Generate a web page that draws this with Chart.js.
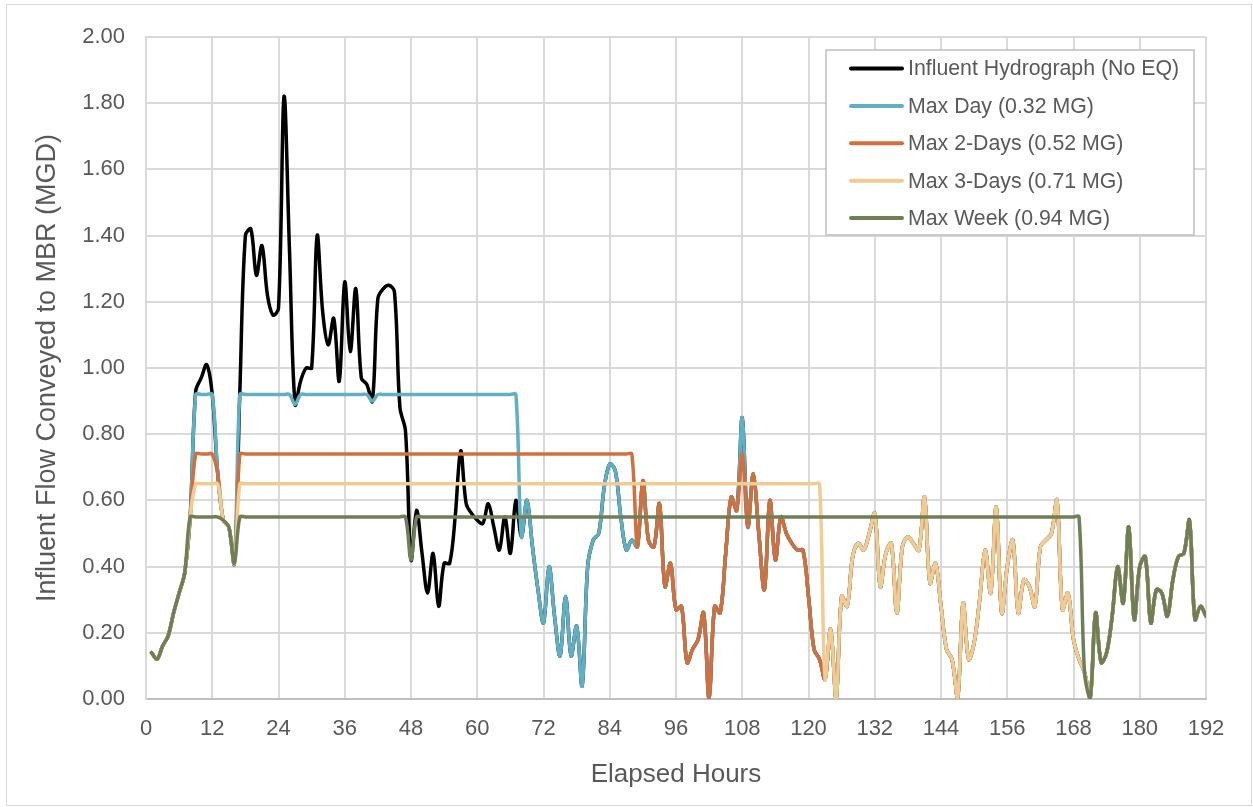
<!DOCTYPE html>
<html>
<head>
<meta charset="utf-8">
<script src="https://cdn.jsdelivr.net/npm/chart.js@4.4.1/dist/chart.umd.min.js"></script>
<style>
  html, body { margin: 0; padding: 0; background: #fff; }
  #wrap { position: relative; width: 1253px; height: 807px; }
  #frame { position: absolute; left: 6px; top: 4px; width: 1244px; height: 800px; border: 1px solid #d9d9d9; pointer-events: none; }
</style>
</head>
<body>
<div id="wrap">
  <canvas id="chart-flow" width="1253" height="807"></canvas>
  <div id="frame"></div>
</div>
<script>
// elapsed hours 1..192
const hours = Array.from({ length: 192 }, (_, i) => i + 1);

const influent = [
  0.14, 0.12, 0.16, 0.19, 0.26, 0.32, 0.38, 0.55, 0.93, 0.97, 1.01, 0.92,
  0.68, 0.54, 0.52, 0.41, 0.93, 1.40, 1.42, 1.28, 1.37, 1.22, 1.16, 1.18,
  1.82, 1.35, 0.89, 0.96, 1.00, 1.00, 1.40, 1.17, 1.07, 1.15, 0.96, 1.26,
  1.05, 1.24, 0.97, 0.95, 0.90, 1.21, 1.24, 1.25, 1.23, 0.88, 0.81, 0.42,
  0.57, 0.44, 0.32, 0.44, 0.28, 0.41, 0.41, 0.55, 0.75, 0.59, 0.56, 0.54,
  0.53, 0.59, 0.52, 0.45, 0.55, 0.44, 0.60, 0.49, 0.60, 0.46, 0.33, 0.23,
  0.40, 0.25, 0.13, 0.31, 0.13, 0.22, 0.04, 0.40, 0.48, 0.50, 0.64, 0.71,
  0.69, 0.55, 0.45, 0.48, 0.46, 0.66, 0.48, 0.46, 0.59, 0.34, 0.41, 0.27,
  0.28, 0.11, 0.15, 0.18, 0.26, 0.00, 0.28, 0.26, 0.44, 0.61, 0.57, 0.85,
  0.52, 0.68, 0.50, 0.33, 0.60, 0.42, 0.55, 0.50, 0.47, 0.45, 0.45, 0.31,
  0.15, 0.12, 0.06, 0.21, 0.00, 0.31, 0.28, 0.43, 0.47, 0.45, 0.50, 0.56,
  0.34, 0.44, 0.47, 0.26, 0.46, 0.49, 0.47, 0.45, 0.61, 0.35, 0.41, 0.28,
  0.15, 0.12, 0.00, 0.29, 0.12, 0.17, 0.30, 0.45, 0.32, 0.58, 0.26, 0.40,
  0.48, 0.26, 0.36, 0.34, 0.28, 0.46, 0.48, 0.50, 0.60, 0.27, 0.32, 0.18,
  0.12, 0.08, 0.00, 0.26, 0.11, 0.14, 0.25, 0.40, 0.29, 0.52, 0.24, 0.40,
  0.43, 0.23, 0.33, 0.32, 0.25, 0.36, 0.43, 0.44, 0.54, 0.24, 0.28, 0.25
];

const maxDay = [
  0.14, 0.12, 0.16, 0.19, 0.26, 0.32, 0.38, 0.55, 0.92, 0.92, 0.92, 0.92,
  0.68, 0.54, 0.52, 0.41, 0.92, 0.92, 0.92, 0.92, 0.92, 0.92, 0.92, 0.92,
  0.92, 0.92, 0.89, 0.92, 0.92, 0.92, 0.92, 0.92, 0.92, 0.92, 0.92, 0.92,
  0.92, 0.92, 0.92, 0.92, 0.90, 0.92, 0.92, 0.92, 0.92, 0.92, 0.92, 0.92,
  0.92, 0.92, 0.92, 0.92, 0.92, 0.92, 0.92, 0.92, 0.92, 0.92, 0.92, 0.92,
  0.92, 0.92, 0.92, 0.92, 0.92, 0.92, 0.92, 0.49, 0.60, 0.46, 0.33, 0.23,
  0.40, 0.25, 0.13, 0.31, 0.13, 0.22, 0.04, 0.40, 0.48, 0.50, 0.64, 0.71,
  0.69, 0.55, 0.45, 0.48, 0.46, 0.66, 0.48, 0.46, 0.59, 0.34, 0.41, 0.27,
  0.28, 0.11, 0.15, 0.18, 0.26, 0.00, 0.28, 0.26, 0.44, 0.61, 0.57, 0.85,
  0.52, 0.68, 0.50, 0.33, 0.60, 0.42, 0.55, 0.50, 0.47, 0.45, 0.45, 0.31,
  0.15, 0.12, 0.06, 0.21, 0.00, 0.31, 0.28, 0.43, 0.47, 0.45, 0.50, 0.56,
  0.34, 0.44, 0.47, 0.26, 0.46, 0.49, 0.47, 0.45, 0.61, 0.35, 0.41, 0.28,
  0.15, 0.12, 0.00, 0.29, 0.12, 0.17, 0.30, 0.45, 0.32, 0.58, 0.26, 0.40,
  0.48, 0.26, 0.36, 0.34, 0.28, 0.46, 0.48, 0.50, 0.60, 0.27, 0.32, 0.18,
  0.12, 0.08, 0.00, 0.26, 0.11, 0.14, 0.25, 0.40, 0.29, 0.52, 0.24, 0.40,
  0.43, 0.23, 0.33, 0.32, 0.25, 0.36, 0.43, 0.44, 0.54, 0.24, 0.28, 0.25
];

const max2Days = [
  0.14, 0.12, 0.16, 0.19, 0.26, 0.32, 0.38, 0.55, 0.74, 0.74, 0.74, 0.74,
  0.68, 0.54, 0.52, 0.41, 0.74, 0.74, 0.74, 0.74, 0.74, 0.74, 0.74, 0.74,
  0.74, 0.74, 0.74, 0.74, 0.74, 0.74, 0.74, 0.74, 0.74, 0.74, 0.74, 0.74,
  0.74, 0.74, 0.74, 0.74, 0.74, 0.74, 0.74, 0.74, 0.74, 0.74, 0.74, 0.74,
  0.74, 0.74, 0.74, 0.74, 0.74, 0.74, 0.74, 0.74, 0.74, 0.74, 0.74, 0.74,
  0.74, 0.74, 0.74, 0.74, 0.74, 0.74, 0.74, 0.74, 0.74, 0.74, 0.74, 0.74,
  0.74, 0.74, 0.74, 0.74, 0.74, 0.74, 0.74, 0.74, 0.74, 0.74, 0.74, 0.74,
  0.74, 0.74, 0.74, 0.74, 0.46, 0.66, 0.48, 0.46, 0.59, 0.34, 0.41, 0.27,
  0.28, 0.11, 0.15, 0.18, 0.26, 0.00, 0.28, 0.26, 0.44, 0.61, 0.57, 0.74,
  0.52, 0.68, 0.50, 0.33, 0.60, 0.42, 0.55, 0.50, 0.47, 0.45, 0.45, 0.31,
  0.15, 0.12, 0.06, 0.21, 0.00, 0.31, 0.28, 0.43, 0.47, 0.45, 0.50, 0.56,
  0.34, 0.44, 0.47, 0.26, 0.46, 0.49, 0.47, 0.45, 0.61, 0.35, 0.41, 0.28,
  0.15, 0.12, 0.00, 0.29, 0.12, 0.17, 0.30, 0.45, 0.32, 0.58, 0.26, 0.40,
  0.48, 0.26, 0.36, 0.34, 0.28, 0.46, 0.48, 0.50, 0.60, 0.27, 0.32, 0.18,
  0.12, 0.08, 0.00, 0.26, 0.11, 0.14, 0.25, 0.40, 0.29, 0.52, 0.24, 0.40,
  0.43, 0.23, 0.33, 0.32, 0.25, 0.36, 0.43, 0.44, 0.54, 0.24, 0.28, 0.25
];

const max3Days = [
  0.14, 0.12, 0.16, 0.19, 0.26, 0.32, 0.38, 0.55, 0.65, 0.65, 0.65, 0.65,
  0.65, 0.54, 0.52, 0.41, 0.65, 0.65, 0.65, 0.65, 0.65, 0.65, 0.65, 0.65,
  0.65, 0.65, 0.65, 0.65, 0.65, 0.65, 0.65, 0.65, 0.65, 0.65, 0.65, 0.65,
  0.65, 0.65, 0.65, 0.65, 0.65, 0.65, 0.65, 0.65, 0.65, 0.65, 0.65, 0.65,
  0.65, 0.65, 0.65, 0.65, 0.65, 0.65, 0.65, 0.65, 0.65, 0.65, 0.65, 0.65,
  0.65, 0.65, 0.65, 0.65, 0.65, 0.65, 0.65, 0.65, 0.65, 0.65, 0.65, 0.65,
  0.65, 0.65, 0.65, 0.65, 0.65, 0.65, 0.65, 0.65, 0.65, 0.65, 0.65, 0.65,
  0.65, 0.65, 0.65, 0.65, 0.65, 0.65, 0.65, 0.65, 0.65, 0.65, 0.65, 0.65,
  0.65, 0.65, 0.65, 0.65, 0.65, 0.65, 0.65, 0.65, 0.65, 0.65, 0.65, 0.65,
  0.65, 0.65, 0.65, 0.65, 0.65, 0.65, 0.65, 0.65, 0.65, 0.65, 0.65, 0.65,
  0.65, 0.65, 0.06, 0.21, 0.00, 0.31, 0.28, 0.43, 0.47, 0.45, 0.50, 0.56,
  0.34, 0.44, 0.47, 0.26, 0.46, 0.49, 0.47, 0.45, 0.61, 0.35, 0.41, 0.28,
  0.15, 0.12, 0.00, 0.29, 0.12, 0.17, 0.30, 0.45, 0.32, 0.58, 0.26, 0.40,
  0.48, 0.26, 0.36, 0.34, 0.28, 0.46, 0.48, 0.50, 0.60, 0.27, 0.32, 0.18,
  0.12, 0.08, 0.00, 0.26, 0.11, 0.14, 0.25, 0.40, 0.29, 0.52, 0.24, 0.40,
  0.43, 0.23, 0.33, 0.32, 0.25, 0.36, 0.43, 0.44, 0.54, 0.24, 0.28, 0.25
];

const maxWeek = [
  0.14, 0.12, 0.16, 0.19, 0.26, 0.32, 0.38, 0.55, 0.55, 0.55, 0.55, 0.55,
  0.55, 0.54, 0.52, 0.41, 0.55, 0.55, 0.55, 0.55, 0.55, 0.55, 0.55, 0.55,
  0.55, 0.55, 0.55, 0.55, 0.55, 0.55, 0.55, 0.55, 0.55, 0.55, 0.55, 0.55,
  0.55, 0.55, 0.55, 0.55, 0.55, 0.55, 0.55, 0.55, 0.55, 0.55, 0.55, 0.42,
  0.55, 0.55, 0.55, 0.55, 0.55, 0.55, 0.55, 0.55, 0.55, 0.55, 0.55, 0.55,
  0.55, 0.55, 0.55, 0.55, 0.55, 0.55, 0.55, 0.55, 0.55, 0.55, 0.55, 0.55,
  0.55, 0.55, 0.55, 0.55, 0.55, 0.55, 0.55, 0.55, 0.55, 0.55, 0.55, 0.55,
  0.55, 0.55, 0.55, 0.55, 0.55, 0.55, 0.55, 0.55, 0.55, 0.55, 0.55, 0.55,
  0.55, 0.55, 0.55, 0.55, 0.55, 0.55, 0.55, 0.55, 0.55, 0.55, 0.55, 0.55,
  0.55, 0.55, 0.55, 0.55, 0.55, 0.55, 0.55, 0.55, 0.55, 0.55, 0.55, 0.55,
  0.55, 0.55, 0.55, 0.55, 0.55, 0.55, 0.55, 0.55, 0.55, 0.55, 0.55, 0.55,
  0.55, 0.55, 0.55, 0.55, 0.55, 0.55, 0.55, 0.55, 0.55, 0.55, 0.55, 0.55,
  0.55, 0.55, 0.55, 0.55, 0.55, 0.55, 0.55, 0.55, 0.55, 0.55, 0.55, 0.55,
  0.55, 0.55, 0.55, 0.55, 0.55, 0.55, 0.55, 0.55, 0.55, 0.55, 0.55, 0.55,
  0.55, 0.08, 0.00, 0.26, 0.11, 0.14, 0.25, 0.40, 0.29, 0.52, 0.24, 0.40,
  0.43, 0.23, 0.33, 0.32, 0.25, 0.36, 0.43, 0.44, 0.54, 0.24, 0.28, 0.25
];

const seriesLabels = [
  "Influent Hydrograph (No EQ)",
  "Max Day (0.32 MG)",
  "Max 2-Days (0.52 MG)",
  "Max 3-Days (0.71 MG)",
  "Max Week (0.94 MG)"
];
const seriesColors = ["#000000", "#5fb0c4", "#d1703f", "#f0cc92", "#6f7f55"];
const seriesValues = [influent, maxDay, max2Days, max3Days, maxWeek];

const FONT = '"Liberation Sans", Arial, sans-serif';
const TEXT = "#595959";

// legend box drawn inside the plot, top right
const legendBox = {
  id: "legendBox",
  afterDatasetsDraw(chart) {
    const ctx = chart.ctx;
    ctx.save();
    ctx.fillStyle = "#ffffff";
    ctx.fillRect(826, 50, 368, 185);
    ctx.strokeStyle = "#bfbfbf";
    ctx.lineWidth = 1.5;
    ctx.strokeRect(826, 50, 368, 185);
    ctx.font = "21.3px " + FONT;
    ctx.textBaseline = "middle";
    ctx.textAlign = "left";
    chart.data.datasets.forEach((ds, i) => {
      const y = 68.5 + i * 37.4;
      ctx.strokeStyle = ds.borderColor;
      ctx.lineWidth = 4;
      ctx.lineCap = "round";
      ctx.beginPath();
      ctx.moveTo(851, y);
      ctx.lineTo(902, y);
      ctx.stroke();
      ctx.fillStyle = TEXT;
      ctx.fillText(ds.label, 908, y + 1);
    });
    ctx.restore();
  }
};

const ctx = document.getElementById("chart-flow").getContext("2d");

const myChart = new Chart(ctx, {
  type: "line",
  data: {
    datasets: seriesLabels.map((label, i) => ({
      label: label,
      data: hours.map((h, j) => ({ x: h, y: seriesValues[i][j] })),
      borderColor: seriesColors[i],
      backgroundColor: seriesColors[i],
      borderWidth: 3.5,
      pointRadius: 0,
      tension: 0.35,
      borderJoinStyle: "round",
      borderCapStyle: "round",
      fill: false,
      order: 5 - i
    }))
  },
  options: {
    responsive: false,
    animation: false,
    events: [],
    layout: { padding: { left: 0, top: 37, right: 47, bottom: 0 } },
    plugins: {
      legend: { display: false },
      tooltip: { enabled: false }
    },
    scales: {
      x: {
        type: "linear",
        min: 0,
        max: 192,
        afterFit: (s) => { s.height = 108; },
        ticks: {
          stepSize: 12,
          padding: 17,
          color: TEXT,
          font: { family: FONT, size: 22 },
          maxRotation: 0
        },
        grid: { color: "#d9d9d9", lineWidth: 2, drawTicks: false },
        border: { color: "#bfbfbf", width: 2 },
        title: {
          display: true,
          text: "Elapsed Hours",
          color: TEXT,
          font: { family: FONT, size: 26 },
          padding: { top: 0, bottom: 17 }
        }
      },
      y: {
        min: 0,
        max: 2,
        afterFit: (s) => { s.width = 146; },
        ticks: {
          stepSize: 0.2,
          padding: 21,
          color: TEXT,
          font: { family: FONT, size: 22 },
          callback: (v) => v.toFixed(2)
        },
        grid: { color: "#d9d9d9", lineWidth: 2, drawTicks: false },
        border: { color: "#d9d9d9", width: 2 },
        title: {
          display: true,
          text: "Influent Flow Conveyed to MBR (MGD)",
          color: TEXT,
          font: { family: FONT, size: 27 },
          padding: { top: 31, bottom: 0 }
        }
      }
    }
  },
  plugins: [legendBox]
});
</script>
</body>
</html>
